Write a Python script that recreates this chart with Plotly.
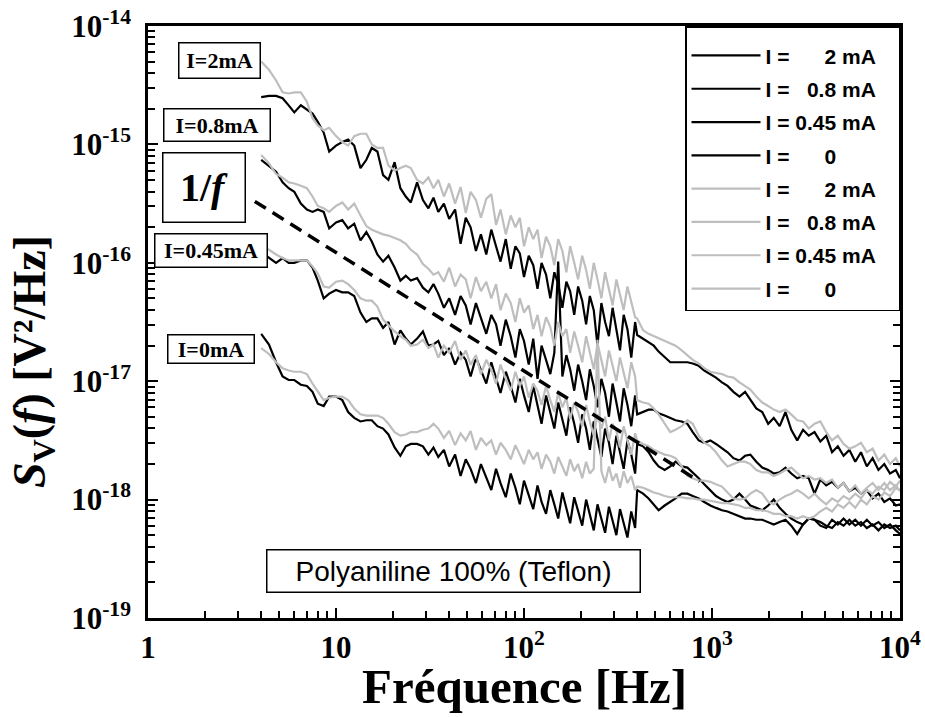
import numpy as np
import plotly.graph_objects as go

# Frequency grid of the spectra [Hz]: narrow-band FFT part up to 400 Hz, then the wide-band part up to 10 kHz
FREQ_HZ = [
    4.0, 4.4, 4.8, 5.2, 5.6, 6.0, 6.5, 7.0, 7.5, 8.0,
    8.6, 9.2, 10, 10.8, 11.6, 12.5, 13.5, 14.5, 15.5, 16.6,
    17.8, 19, 20.5, 22, 23.5, 25, 27, 29, 31, 33,
    35, 37.5, 40, 43, 46, 49, 52, 55.5, 59, 63,
    67, 71, 75, 80, 85, 90, 95, 100, 106, 112,
    118, 124, 131, 138, 145, 152, 160, 168, 176, 185,
    194, 204, 214, 224, 235, 246, 258, 270, 283, 296,
    310, 324, 339, 355, 372, 390, 400,
    430, 460, 490, 520, 560, 600, 640, 690, 740, 790,
    850, 910, 980, 1050, 1130, 1210, 1300, 1400, 1500, 1600,
    1720, 1850, 1990, 2130, 2290, 2460, 2640, 2840, 3050, 3270,
    3510, 3770, 4050, 4350, 4670, 5010, 5380, 5780, 6200, 6660,
    7150, 7680, 8250, 8850, 9500, 10000,
]

# log10 of S_V [V^2/Hz] — first measurement set (black)
LOG_SV_2MA_A = [
    -14.60, -14.59, -14.59, -14.61, -14.67, -14.73, -14.67, -14.71, -14.74, -14.81,
    -14.90, -15.06, -15.01, -14.98, -14.96, -15.01, -15.20, -15.13, -15.03, -15.06,
    -15.26, -15.30, -15.15, -15.37, -15.44, -15.49, -15.32, -15.47, -15.54, -15.45,
    -15.57, -15.50, -15.63, -15.55, -15.84, -15.62, -15.70, -15.90, -15.76, -15.93,
    -15.72, -15.86, -15.99, -15.80, -16.05, -15.86, -15.92, -16.12, -15.94, -16.02,
    -16.22, -16.00, -16.10, -16.30, -16.08, -16.18, -16.38, -16.16, -16.24, -16.44,
    -16.20, -16.32, -16.52, -16.28, -16.40, -16.70, -16.34, -16.50, -16.62, -16.38,
    -16.58, -16.74, -16.44, -16.56, -16.80, -16.50, -16.61,
    -16.64, -16.67, -16.70, -16.75, -16.80, -16.84, -16.84, -16.84, -16.84, -16.85,
    -16.87, -16.91, -16.94, -16.97, -17.01, -17.04, -17.09, -17.13, -17.09, -17.16,
    -17.23, -17.26, -17.36, -17.31, -17.38, -17.26, -17.41, -17.50, -17.41, -17.46,
    -17.43, -17.51, -17.46, -17.60, -17.55, -17.63, -17.58, -17.68, -17.60, -17.72,
    -17.65, -17.75, -17.70, -17.78, -17.75, -17.82,
]
LOG_SV_08MA_A = [
    -15.13, -15.18, -15.23, -15.32, -15.37, -15.40, -15.50, -15.55, -15.57, -15.55,
    -15.57, -15.71, -15.66, -15.64, -15.71, -15.67, -15.81, -15.74, -15.82, -15.93,
    -15.99, -15.94, -16.04, -16.15, -16.11, -16.15, -16.13, -16.21, -16.25, -16.18,
    -16.26, -16.38, -16.30, -16.44, -16.28, -16.36, -16.52, -16.34, -16.46, -16.60,
    -16.44, -16.52, -16.70, -16.48, -16.62, -16.80, -16.56, -16.66, -16.86, -16.64,
    -16.98, -16.70, -16.82, -16.94, -16.76, -15.99, -16.96, -16.78, -16.90, -17.08,
    -16.86, -17.00, -17.16, -16.90, -17.04, -17.22, -16.98, -17.10, -17.30, -17.02,
    -17.18, -17.34, -17.06, -17.20, -17.38, -17.12, -17.28,
    -17.26, -17.24, -17.24, -17.27, -17.29, -17.31, -17.33, -17.34, -17.36, -17.43,
    -17.50, -17.52, -17.50, -17.53, -17.57, -17.60, -17.65, -17.67, -17.63, -17.62,
    -17.68, -17.73, -17.75, -17.78, -17.77, -17.73, -17.78, -17.82, -17.80, -17.82,
    -17.95, -17.83, -17.88, -17.85, -17.90, -17.86, -17.93, -17.90, -17.95, -17.92,
    -17.99, -17.95, -18.02, -17.99, -18.05, -18.04,
]
LOG_SV_045MA_A = [
    -15.91, -15.96, -16.00, -15.96, -16.00, -16.00, -15.98, -15.98, -16.04, -16.15,
    -16.30, -16.26, -16.23, -16.25, -16.25, -16.28, -16.42, -16.50, -16.47, -16.47,
    -16.55, -16.50, -16.69, -16.57, -16.64, -16.69, -16.64, -16.58, -16.70, -16.69,
    -16.66, -16.78, -16.72, -16.86, -16.76, -16.82, -16.96, -16.80, -16.90, -17.02,
    -16.84, -16.98, -17.10, -16.92, -17.04, -17.18, -16.98, -17.12, -17.26, -17.04,
    -17.20, -17.36, -17.12, -17.26, -17.40, -17.18, -17.32, -17.46, -17.22, -17.36,
    -17.52, -17.28, -17.40, -17.58, -17.34, -17.48, -17.64, -17.40, -17.52, -17.70,
    -17.46, -17.60, -17.74, -17.50, -17.62, -17.78, -17.53,
    -17.55, -17.60, -17.67, -17.72, -17.75, -17.72, -17.68, -17.72, -17.73, -17.77,
    -17.82, -17.87, -17.92, -17.97, -18.00, -18.02, -18.00, -17.95, -18.00, -18.05,
    -18.07, -18.09, -18.05, -18.00, -18.07, -18.12, -18.16, -18.19, -18.21, -18.16,
    -18.17, -18.19, -18.22, -18.24, -18.19, -18.22, -18.17, -18.22, -18.19, -18.24,
    -18.21, -18.26, -18.21, -18.24, -18.22, -18.26,
]
LOG_SV_0MA_A = [
    -16.60, -16.69, -16.84, -16.96, -16.99, -16.99, -17.03, -17.04, -17.09, -17.19,
    -17.21, -17.13, -17.13, -17.16, -17.26, -17.31, -17.34, -17.33, -17.33, -17.38,
    -17.40, -17.45, -17.56, -17.63, -17.55, -17.53, -17.53, -17.55, -17.62, -17.56,
    -17.64, -17.58, -17.72, -17.62, -17.80, -17.66, -17.74, -17.86, -17.70, -17.82,
    -17.92, -17.74, -17.86, -17.98, -17.78, -17.90, -18.04, -17.84, -17.96, -18.08,
    -17.88, -18.02, -18.12, -17.92, -18.04, -18.16, -17.94, -18.08, -18.20, -17.98,
    -18.10, -18.22, -18.00, -18.14, -18.26, -18.04, -18.16, -18.28, -18.06, -18.18,
    -18.30, -18.08, -18.20, -18.32, -18.10, -18.24, -17.92,
    -17.95, -17.99, -18.04, -18.09, -18.05, -18.02, -17.99, -17.95, -17.95, -17.97,
    -17.99, -18.02, -18.05, -18.07, -18.09, -18.10, -18.12, -18.14, -18.16, -18.16,
    -18.17, -18.17, -18.19, -18.21, -18.19, -18.17, -18.22, -18.29, -18.21, -18.16,
    -18.17, -18.22, -18.24, -18.17, -18.21, -18.16, -18.21, -18.17, -18.22, -18.17,
    -18.22, -18.19, -18.24, -18.21, -18.26, -18.29,
]

# log10 of S_V [V^2/Hz] — second measurement set (grey)
LOG_SV_2MA_B = [
    -14.30, -14.37, -14.46, -14.56, -14.57, -14.56, -14.56, -14.64, -14.78, -14.84,
    -14.88, -14.86, -14.93, -14.98, -15.01, -14.93, -14.91, -14.91, -15.00, -15.03,
    -15.03, -15.18, -15.22, -15.20, -15.18, -15.20, -15.30, -15.33, -15.28, -15.37,
    -15.30, -15.44, -15.33, -15.50, -15.36, -15.58, -15.40, -15.47, -15.62, -15.46,
    -15.42, -15.68, -15.55, -15.76, -15.60, -15.70, -15.62, -15.86, -15.70, -15.80,
    -15.72, -15.96, -15.78, -15.86, -16.02, -15.80, -15.90, -16.08, -15.86, -16.00,
    -16.14, -15.94, -16.06, -16.22, -16.00, -16.14, -16.30, -16.08, -16.22, -16.36,
    -16.14, -16.26, -16.40, -16.20, -16.32, -16.46, -16.47,
    -16.57, -16.60, -16.62, -16.64, -16.66, -16.68, -16.70, -16.74, -16.78, -16.82,
    -16.85, -16.89, -16.92, -16.93, -16.94, -16.96, -16.97, -17.01, -17.04, -17.07,
    -17.13, -17.18, -17.21, -17.24, -17.26, -17.24, -17.28, -17.33, -17.34, -17.40,
    -17.36, -17.34, -17.43, -17.50, -17.46, -17.53, -17.57, -17.55, -17.52, -17.60,
    -17.57, -17.67, -17.62, -17.70, -17.65, -17.72,
]
LOG_SV_08MA_B = [
    -15.09, -15.16, -15.25, -15.28, -15.32, -15.33, -15.35, -15.37, -15.44, -15.52,
    -15.54, -15.57, -15.52, -15.49, -15.55, -15.50, -15.60, -15.69, -15.72, -15.74,
    -15.76, -15.77, -15.79, -15.81, -15.84, -15.89, -15.93, -16.01, -16.05, -16.10,
    -16.08, -16.16, -16.04, -16.20, -16.10, -16.14, -16.30, -16.12, -16.24, -16.16,
    -16.30, -16.18, -16.40, -16.26, -16.34, -16.50, -16.30, -16.42, -16.36, -16.56,
    -16.44, -16.62, -16.46, -16.54, -16.70, -16.50, -16.62, -16.56, -16.76, -16.58,
    -16.70, -16.84, -16.62, -16.76, -16.90, -16.68, -16.82, -16.96, -16.74, -16.86,
    -17.00, -16.80, -16.92, -17.06, -16.84, -16.96, -17.16,
    -17.18, -17.19, -17.23, -17.28, -17.36, -17.43, -17.41, -17.38, -17.33, -17.36,
    -17.46, -17.52, -17.55, -17.60, -17.67, -17.72, -17.70, -17.68, -17.68, -17.70,
    -17.75, -17.77, -17.77, -17.80, -17.78, -17.75, -17.73, -17.78, -17.82, -17.80,
    -17.83, -17.82, -17.86, -17.83, -17.90, -17.86, -17.93, -17.88, -17.95, -17.90,
    -17.86, -17.92, -17.86, -17.92, -17.88, -17.93,
]
LOG_SV_045MA_B = [
    -15.86, -15.89, -15.93, -15.96, -15.98, -15.98, -15.98, -15.98, -16.03, -16.09,
    -16.20, -16.21, -16.16, -16.15, -16.18, -16.23, -16.30, -16.32, -16.32, -16.37,
    -16.48, -16.53, -16.58, -16.62, -16.65, -16.70, -16.69, -16.65, -16.72, -16.69,
    -16.80, -16.70, -16.76, -16.66, -16.82, -16.74, -16.86, -16.78, -16.94, -16.82,
    -16.90, -17.02, -16.86, -16.98, -17.08, -16.92, -17.04, -16.96, -17.14, -17.02,
    -17.08, -17.20, -17.04, -17.16, -17.26, -17.10, -17.22, -17.14, -17.32, -17.18,
    -17.26, -17.38, -17.20, -17.34, -17.46, -17.28, -17.40, -17.30, -17.50, -17.36,
    -17.42, -17.56, -17.38, -17.50, -17.62, -17.44, -17.50,
    -17.53, -17.55, -17.58, -17.60, -17.62, -17.63, -17.65, -17.72, -17.80, -17.82,
    -17.84, -17.84, -17.85, -17.87, -17.89, -17.94, -17.99, -18.00, -17.99, -17.95,
    -17.92, -17.95, -18.02, -18.04, -18.00, -17.97, -17.95, -17.92, -17.95, -17.99,
    -17.95, -18.00, -18.04, -17.99, -18.02, -17.97, -18.00, -17.95, -17.99, -17.92,
    -17.95, -17.89, -17.92, -17.85, -17.89, -17.84,
]
LOG_SV_0MA_B = [
    -16.72, -16.77, -16.84, -16.89, -16.91, -16.92, -16.92, -16.94, -17.02, -17.09,
    -17.16, -17.14, -17.13, -17.13, -17.16, -17.23, -17.28, -17.29, -17.29, -17.29,
    -17.31, -17.36, -17.43, -17.46, -17.45, -17.43, -17.43, -17.41, -17.40, -17.36,
    -17.40, -17.48, -17.42, -17.54, -17.44, -17.50, -17.42, -17.58, -17.48, -17.54,
    -17.50, -17.62, -17.52, -17.58, -17.66, -17.54, -17.62, -17.70, -17.58, -17.66,
    -17.60, -17.74, -17.62, -17.68, -17.78, -17.64, -17.72, -17.80, -17.66, -17.76,
    -17.70, -17.82, -17.68, -17.78, -17.74, -16.65, -17.76, -17.86, -17.72, -17.84,
    -17.78, -17.90, -17.76, -17.86, -17.80, -17.92, -17.89,
    -17.90, -17.92, -17.94, -17.95, -17.97, -17.98, -17.98, -17.98, -17.99, -17.99,
    -18.00, -18.00, -18.01, -18.02, -18.03, -18.03, -18.04, -18.05, -18.07, -18.07,
    -18.09, -18.09, -18.10, -18.12, -18.12, -18.14, -18.14, -18.16, -18.14, -18.16,
    -18.14, -18.10, -18.07, -18.10, -18.04, -18.07, -18.02, -18.07, -18.00, -18.04,
    -17.97, -18.00, -17.94, -17.97, -17.90, -17.92,
]

# 1/f reference slope (two end points)
REF_F_HZ = [3.7, 860]
REF_SV = [3.3e-16, 1.42e-18]

NBSP = "\u00a0"
PAD = NBSP * 3
LEGEND_LABELS = [
    "I =" + NBSP * 6 + "2 mA" + PAD,
    "I =" + NBSP * 3 + "0.8 mA" + PAD,
    "I =" + NBSP + "0.45 mA" + PAD,
    "I =" + NBSP * 6 + "0" + NBSP * 4 + PAD,
]

X_TICK_VALS = [1, 10, 100, 1000, 10000]
X_TICK_TEXT = ["1", "10", "10<sup>2</sup>", "10<sup>3</sup>", "10<sup>4</sup>"]
Y_TICK_VALS = [1e-19, 1e-18, 1e-17, 1e-16, 1e-15, 1e-14]
Y_TICK_TEXT = ["10<sup>-19</sup>", "10<sup>-18</sup>", "10<sup>-17</sup>",
               "10<sup>-16</sup>", "10<sup>-15</sup>", "10<sup>-14</sup>"]

BLACK = "#000000"
GREY = "#bebebe"
SERIF = "Liberation Serif"
SANS = "Liberation Sans"

series = [
    (LEGEND_LABELS[0], LOG_SV_2MA_A, BLACK),
    (LEGEND_LABELS[1], LOG_SV_08MA_A, BLACK),
    (LEGEND_LABELS[2], LOG_SV_045MA_A, BLACK),
    (LEGEND_LABELS[3], LOG_SV_0MA_A, BLACK),
    (LEGEND_LABELS[0], LOG_SV_2MA_B, GREY),
    (LEGEND_LABELS[1], LOG_SV_08MA_B, GREY),
    (LEGEND_LABELS[2], LOG_SV_045MA_B, GREY),
    (LEGEND_LABELS[3], LOG_SV_0MA_B, GREY),
]

fig = go.Figure()
for i, (label, log_sv, color) in enumerate(series):
    fig.add_trace(go.Scatter(
        x=FREQ_HZ, y=10 ** np.array(log_sv), mode="lines", name=label,
        legendgroup=f"g{i}", line=dict(color=color, width=2.2),
    ))

fig.add_trace(go.Scatter(
    x=REF_F_HZ, y=REF_SV, mode="lines", showlegend=False,
    line=dict(color=BLACK, width=3.5, dash="13px,8px"),
))

tick_font = dict(family=SERIF, size=31, color=BLACK, weight="bold")
axis_common = dict(
    type="log", showgrid=False, zeroline=False, showline=True, linecolor=BLACK,
    linewidth=2.5, ticks="inside", ticklen=10, tickwidth=2, tickcolor=BLACK,
    tickfont=tick_font, tickmode="array", automargin=False,
    minor=dict(ticks="inside", ticklen=7, tickwidth=1.5, tickcolor=BLACK,
               dtick="D1", showgrid=False),
)

fig.update_xaxes(
    **axis_common, range=[0, 4], mirror=True,
    tickvals=X_TICK_VALS, ticktext=X_TICK_TEXT, ticklabelstandoff=0,
)
fig.update_yaxes(
    **axis_common, range=[-19, -14], mirror="ticks",
    tickvals=Y_TICK_VALS, ticktext=Y_TICK_TEXT, ticklabelstandoff=8,
)

# axis titles placed as annotations
fig.add_annotation(
    text="Fréquence [Hz]", xref="paper", yref="paper", x=0.5, y=-0.1149,
    showarrow=False, xanchor="center", yanchor="middle",
    font=dict(family=SERIF, size=49, color=BLACK, weight="bold"),
)
fig.add_annotation(
    text="<i>S</i><sub>V</sub>(<i>f</i>) [V²/Hz]", textangle=-90,
    xref="paper", yref="paper", x=-0.153, y=0.434, showarrow=False,
    xanchor="center", yanchor="middle",
    font=dict(family=SERIF, size=46, color=BLACK, weight="bold"),
)

label_font = dict(family=SERIF, size=22, color=BLACK, weight="bold")
box_labels = [
    ("I=2mA", 0.0957, 0.9409, 80, 34, label_font),
    ("I=0.8mA", 0.0911, 0.8336, 105, 31, label_font),
    ("1/<i>f</i>", 0.0751, 0.7280, 81, 68, dict(label_font, size=40)),
    ("I=0.45mA", 0.0844, 0.6216, 111, 32, label_font),
    ("I=0mA", 0.0844, 0.4552, 85, 27, label_font),
    ("Polyaniline 100% (Teflon)", 0.4069, 0.0802, 372, 41,
     dict(family=SANS, size=28, color=BLACK)),
]
for text, xp, yp, w, h, font in box_labels:
    fig.add_annotation(
        text=text, xref="paper", yref="paper", x=xp, y=yp, showarrow=False,
        width=w, height=h, borderpad=0, bordercolor=BLACK, borderwidth=1.5,
        bgcolor="white", font=font, xanchor="center", yanchor="middle",
    )

fig.update_layout(
    width=925, height=717, autosize=False,
    margin=dict(l=148, r=25, t=26, b=99),
    paper_bgcolor="white", plot_bgcolor="white",
    legend=dict(
        x=1, y=1, xanchor="right", yanchor="top",
        bgcolor="white", bordercolor=BLACK, borderwidth=1.5,
        font=dict(family=SANS, size=21, color=BLACK, weight="bold"),
        tracegroupgap=3, itemwidth=69,
        title=dict(text=" ", font=dict(size=6)),
    ),
)

fig.write_html("out.html")
